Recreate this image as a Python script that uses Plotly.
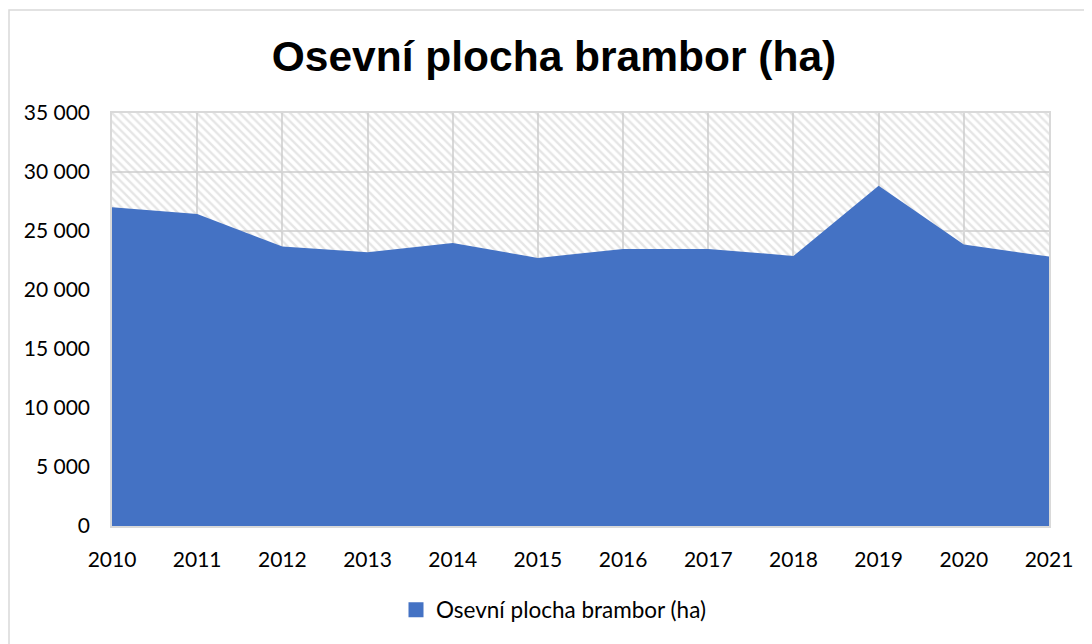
import plotly.graph_objects as go

years = [2010, 2011, 2012, 2013, 2014, 2015, 2016, 2017, 2018, 2019, 2020, 2021]
area_ha = [27020, 26450, 23680, 23200, 23990, 22720, 23480, 23480, 22890, 28830, 23850, 22830]
y_ticks = [0, 5000, 10000, 15000, 20000, 25000, 30000, 35000]
y_tick_labels = ["0", "5 000", "10 000", "15 000", "20 000", "25 000", "30 000", "35 000"]
series_name = "Osevní plocha brambor (ha)"
title_text = "Osevní plocha brambor (ha)"

OFF = 8  # page body margin
W, H = 1092 - OFF, 644 - OFF
L, R, T, B = 112 - OFF, 1049 - OFF, 113 - OFF, 526 - OFF
BLUE = "#4472C4"

fig = go.Figure()

# hatched plot-area background
fig.add_trace(go.Scatter(
    x=[years[0], years[-1]], y=[y_ticks[-1], y_ticks[-1]],
    mode="lines", line=dict(width=0), fill="tozeroy",
    fillcolor="rgba(0,0,0,0)",
    fillpattern=dict(shape="\\", fgcolor="#cccccc", bgcolor="rgba(255,255,255,0)",
                     size=6, solidity=0.4),
    showlegend=False, hoverinfo="skip"))

fig.add_trace(go.Scatter(
    x=years, y=area_ha, mode="lines", name=series_name,
    line=dict(width=0, color=BLUE), fill="tozeroy", fillcolor=BLUE,
    showlegend=False))

# legend entry (square swatch)
fig.add_trace(go.Scatter(x=[None], y=[None], mode="markers", name=series_name,
                         marker=dict(color=BLUE, symbol="square", size=15),
                         showlegend=True))


def px(xp):
    return (xp - OFF - L) / (R - L)


def py(yp):
    return (B - (yp - OFF)) / (B - T)


fig.update_layout(
    width=W, height=H,
    margin=dict(l=L, r=W - R, t=T, b=H - B),
    paper_bgcolor="white", plot_bgcolor="white",
    font=dict(family="Lato, Open Sans, sans-serif", size=21, color="black"),
    title=dict(text="<b>" + title_text + "</b>", x=(554 - OFF) / W, xanchor="center",
               y=1 - (56 - OFF) / H, yanchor="middle",
               font=dict(family="Liberation Sans, Arial, sans-serif", size=42.5, color="black")),
    xaxis=dict(range=[years[0], years[-1]], tickmode="array", tickvals=years,
               ticktext=[str(y) for y in years], showgrid=True, gridcolor="#d9d9d9",
               gridwidth=1.5, zeroline=False, showline=True, linecolor="#d9d9d9",
               mirror=True, linewidth=1.5, ticks="", ticklen=0,
               ticklabelstandoff=14),
    yaxis=dict(range=[0, 35000], tickmode="array", tickvals=y_ticks,
               ticktext=y_tick_labels, showgrid=True, gridcolor="#d9d9d9",
               gridwidth=1.5, zeroline=False, showline=True, linecolor="#d9d9d9",
               mirror=True, linewidth=1.5, ticks="", ticklabelstandoff=16),
    legend=dict(orientation="h", x=0.5 - 27 / (R - L), xanchor="center", y=py(610),
                yanchor="middle", font=dict(size=22.5), itemwidth=30,
                bgcolor="rgba(0,0,0,0)"),
    showlegend=True,
    shapes=[dict(type="rect", xref="paper", yref="paper",
                 x0=px(OFF + 1), x1=px(1110), y0=py(10), y1=py(660),
                 line=dict(color="#d9d9d9", width=1.5), fillcolor="rgba(0,0,0,0)",
                 layer="below")],
)

fig.write_html("out.html")
